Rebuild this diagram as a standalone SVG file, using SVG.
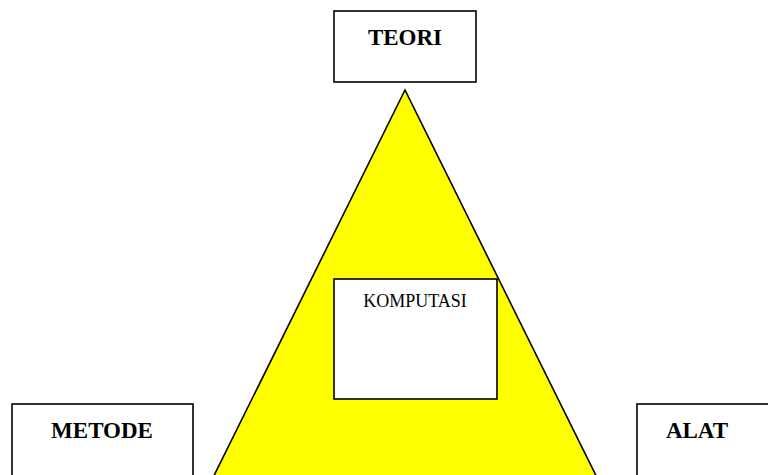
<svg xmlns="http://www.w3.org/2000/svg" width="768" height="475" viewBox="0 0 768 475">
<style>
.box{fill:#fff;stroke:#000;stroke-width:1.6}
.b{font-family:"Liberation Serif","Times New Roman",serif;font-weight:bold;font-size:23px;fill:#000}
.r{font-family:"Liberation Serif","Times New Roman",serif;font-size:18px;fill:#000}
</style>
<rect width="768" height="475" fill="#fff"/>
<g id="connectors">
<polygon points="405,90 192,520 618,520" fill="#ffff00" stroke="#000" stroke-width="1.6"/>
</g>
<g id="teori">
<rect class="box" x="334" y="11" width="142" height="71"/>
<text class="b" x="405" y="45" text-anchor="middle">TEORI</text>
</g>
<g id="komputasi">
<rect class="box" x="334" y="279" width="163" height="120"/>
<text class="r" x="415" y="307" text-anchor="middle">KOMPUTASI</text>
</g>
<g id="metode">
<rect class="box" x="12" y="404" width="181" height="90"/>
<text class="b" x="102" y="438" text-anchor="middle">METODE</text>
</g>
<g id="alat">
<rect class="box" x="637" y="404" width="150" height="90"/>
<text class="b" x="697" y="438" text-anchor="middle">ALAT</text>
</g>
</svg>
